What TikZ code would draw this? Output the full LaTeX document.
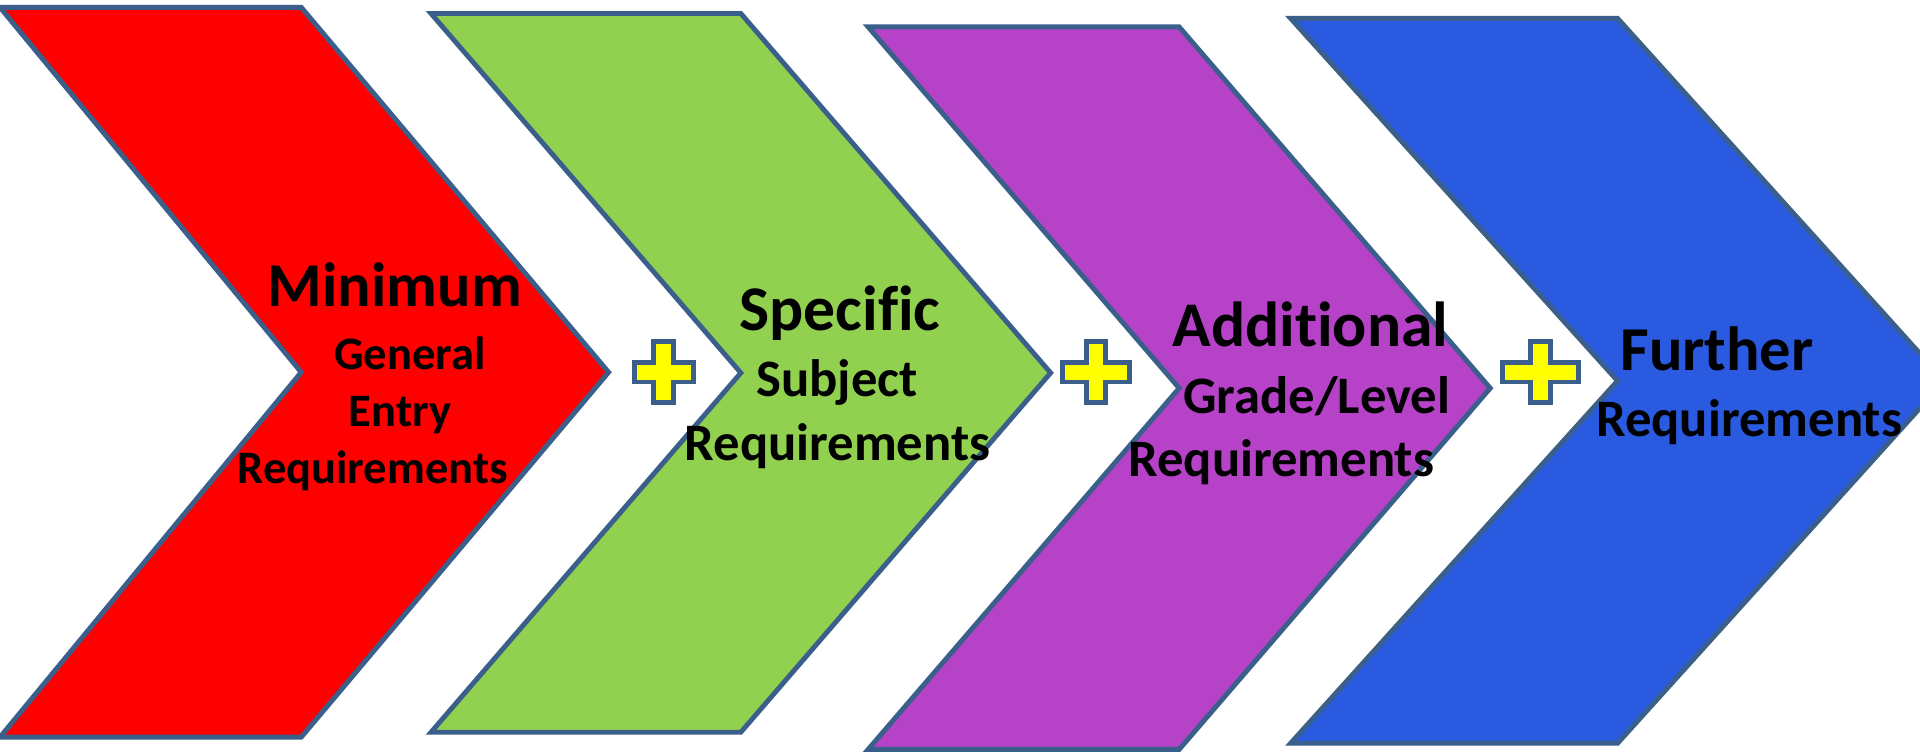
\documentclass[tikz,border=0pt]{standalone}
\usepackage{fontspec}
\setmainfont{Carlito}[Ligatures={NoCommon}]
\definecolor{outl}{HTML}{3A5F8A}
\definecolor{cred}{HTML}{FF0000}
\definecolor{cgreen}{HTML}{92D050}
\definecolor{cpurple}{HTML}{B542C7}
\definecolor{cblue}{HTML}{2A5AE0}
\definecolor{plusyel}{HTML}{FFFF00}
\newcommand\myplus[5]{%
  \draw[plussign, shift={(#1,#2)}]
    (-#5,-#4) -- (#5,-#4) -- (#5,-#5) -- (#3,-#5) -- (#3,#5) -- (#5,#5)
    -- (#5,#4) -- (-#5,#4) -- (-#5,#5) -- (-#3,#5) -- (-#3,-#5) -- (-#5,-#5) -- cycle;}
\begin{document}
\begin{tikzpicture}[x=1pt,y=-1pt,
  chev/.style={draw=outl, line width=4pt, line join=miter},
  plussign/.style={draw=outl, fill=plusyel, line width=4pt, line join=miter},
  bigtxt/.style={font=\fontsize{#1}{#1}\selectfont\bfseries, anchor=base, inner sep=0pt},
  bigtxt/.default=51,
  smalltxt/.style={font=\fontsize{#1}{#1}\selectfont\bfseries, anchor=base, inner sep=0pt},
  smalltxt/.default=43]
\useasboundingbox (0,0) rectangle (1568,616);
\clip (0,0) rectangle (1568,616);
% chevrons
\fill[white] (0,0) rectangle (1568,616);
\draw[chev, fill=cred] (0,6) -- (246,6) -- (497,304) -- (246,602) -- (0,602) -- (246,304) -- cycle;
\draw[chev, fill=cgreen] (352,11) -- (605,11) -- (858,304.5) -- (605,598) -- (352,598) -- (605,304.5) -- cycle;
\draw[chev, fill=cpurple] (709,22) -- (963,22) -- (1217,317) -- (963,612) -- (709,612) -- (963,317) -- cycle;
\draw[chev, fill=cblue] (1054,15) -- (1321,15) -- (1588,311) -- (1321,607) -- (1054,607) -- (1321,311) -- cycle;
% plus signs
\myplus{542}{304}{24}{25}{8}
\myplus{895}{304}{27.5}{25}{8}
\myplus{1258}{304}{31}{25}{8}
% texts
\node[bigtxt=51] (t1a) at (322.5,250.4) {Minimum};
\node[smalltxt=38] (t1b) at (334.7,301.6) {General};
\node[smalltxt=38] (t1c) at (326.7,348) {Entry};
\node[smalltxt=38] (t1d) at (304.3,394.7) {Requirements};
\node[bigtxt=52] (t2a) at (686,270) {Specific};
\node[smalltxt=43] (t2b) at (683.7,324) {Subject};
\node[smalltxt=43] (t2c) at (684,376) {Requirements};
\node[bigtxt=52] (t3a) at (1070.2,282.6) {Additional};
\node[smalltxt=43] (t3b) at (1075.3,337.6) {Grade/Level};
\node[smalltxt=43] (t3c) at (1046.4,389.3) {Requirements};
\node[bigtxt=51] (t4a) at (1402.2,302.2) {Further};
\node[smalltxt=43] (t4b) at (1428.5,356.6) {Requirements};
\end{tikzpicture}
\end{document}
